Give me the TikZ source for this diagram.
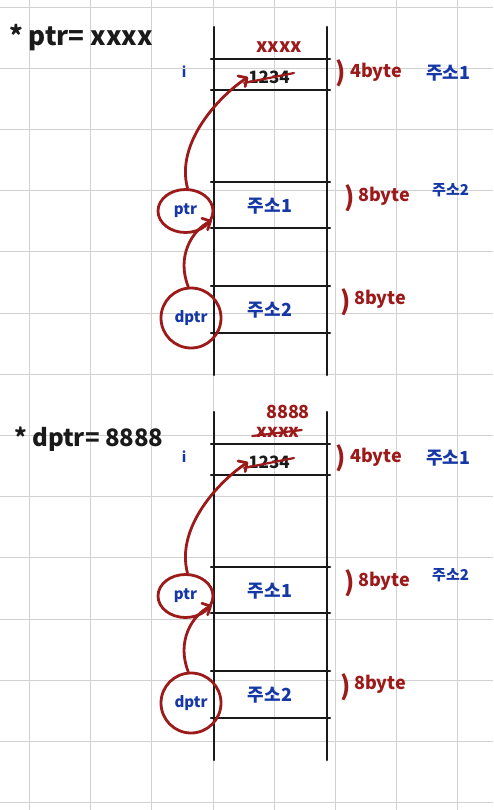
\documentclass[tikz,border=0pt]{standalone}
\usepackage{fontspec}
\setmainfont{Noto Sans CJK KR}
\usetikzlibrary{arrows.meta,shapes.geometric}
\definecolor{pen}{HTML}{1A1A1A}
\definecolor{redpen}{HTML}{9C1A1A}
\definecolor{bluepen}{HTML}{1638A6}
\definecolor{gridc}{HTML}{D2D2D2}
\newcommand\memblock{%
  \draw[wall] (214,27) -- (214,375);
  \draw[wall] (327,27) -- (327,375);
  \foreach \yy in {59,90,182,228,286,333} \draw[rowline] (211,\yy) -- (330,\yy);
  \node[bluetxt, font=\fontsize{14}{14}\selectfont\bfseries] (i) at (184,72) {i};
  \node[valtxt] (val) at (269,77) {1234};
  \draw[strike] ([shift={(-4,6)}]val.west) -- ([shift={(4,-4)}]val.east);
  \node[paren] (p1) at (341,73) {)};
  \node[redtxt, anchor=west] (b1) at (350,72) {4byte};
  \node[bluetxt, anchor=west] (a1) at (426,73) {주소1};
  \node[bluetxt] (c1) at (270,206) {주소1};
  \node[paren] (p2) at (350,198) {)};
  \node[redtxt, anchor=west] (b2) at (358,196) {8byte};
  \node[bluetxt, anchor=west, font=\fontsize{15}{15}\selectfont\bfseries] (a2) at (432,190) {주소2};
  \node[bluetxt] (c2) at (270,310) {주소2};
  \node[paren] (p3) at (346,302) {)};
  \node[redtxt, anchor=west] (b3) at (354,299) {8byte};
  \node[ring, ellipse, minimum width=55, minimum height=43] (ptr) at (185.5,211) {ptr};
  \node[ring, circle, minimum size=60] (dptr) at (191,318) {dptr};
  \draw[redcurve] (ptr.85) .. controls +(-12,-45) and +(-30,20) .. (val.west);
  \draw[redcurve] (dptr.95) .. controls +(-12,-30) and +(-20,10) .. (ptr.-20);
}
\begin{document}
\begin{tikzpicture}[x=1pt,y=-1pt,
  wall/.style={line width=2.5pt, draw=pen, line cap=round},
  rowline/.style={line width=2.2pt, draw=pen, line cap=round},
  gridline/.style={draw=gridc, line width=0.9pt},
  bluetxt/.style={text=bluepen, font=\fontsize{18}{18}\selectfont\bfseries, inner sep=0pt},
  redtxt/.style={text=redpen, font=\fontsize{18}{18}\selectfont\bfseries, inner sep=0pt},
  valtxt/.style={text=pen, font=\fontsize{17}{17}\selectfont\bfseries, inner sep=0pt},
  paren/.style={text=redpen, font=\fontsize{26}{26}\selectfont\bfseries, inner sep=0pt},
  strike/.style={draw=redpen, line width=2.2pt, line cap=round},
  ring/.style={draw=redpen, line width=2.8pt, text=bluepen, inner sep=0pt,
    font=\fontsize{15}{15}\selectfont\bfseries},
  redcurve/.style={draw=redpen, line width=2.8pt, line cap=round,
    -{Straight Barb[angle=90:9pt, round]}},
  header/.style={text=pen, font=\fontsize{26}{26}\selectfont\bfseries, inner sep=0pt, anchor=base west},
]
\fill[white] (0,0) rectangle (493,810);
\useasboundingbox (0,0) rectangle (493,810);
\foreach \k in {0,...,7} \draw[gridline] ({29.5+61.2*\k},0) -- ({29.5+61.2*\k},810);
\foreach \k in {0,...,13} \draw[gridline] (0,{7+61.2*\k}) -- (493,{7+61.2*\k});

% upper drawing
\node[header] (h1) at (9,46) {* ptr= xxxx};
\begin{scope}[name prefix=a-]
  \memblock
  \node[redtxt, font=\fontsize{19}{19}\selectfont\bfseries] (top) at (279,47) {xxxx};
\end{scope}

% lower drawing
\node[header, font=\fontsize{24}{24}\selectfont\bfseries] (h2) at (14,446) {* dptr= 8888};
\begin{scope}[shift={(0,385)}, name prefix=b-]
  \memblock
  \node[redtxt, font=\fontsize{18}{18}\selectfont\bfseries] (old) at (278,47) {xxxx};
  \draw[strike] ([shift={(-4,4)}]old.west) -- ([shift={(2,-2)}]old.east);
  \node[redtxt, font=\fontsize{18}{18}\selectfont\bfseries] (new) at (288,27) {8888};
\end{scope}
\end{tikzpicture}
\end{document}
